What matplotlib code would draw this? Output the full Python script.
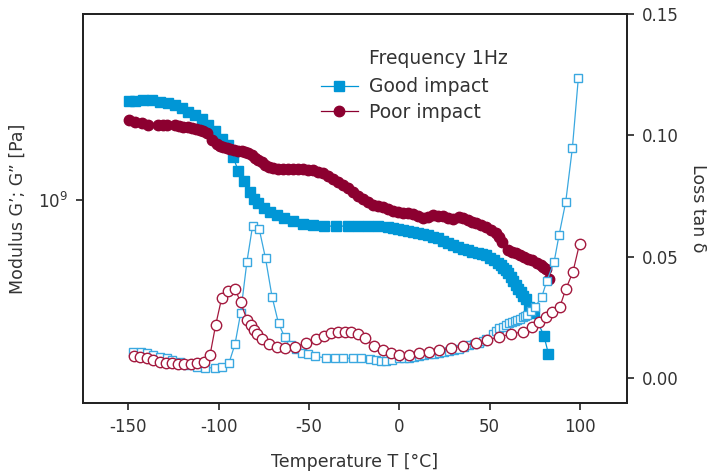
import numpy as np
import matplotlib
matplotlib.use('Agg')
import matplotlib.pyplot as plt
from matplotlib.ticker import FixedLocator, NullLocator

plt.rcParams['font.family'] = ['DejaVu Sans']
plt.rcParams['axes.unicode_minus'] = False

# Storage modulus G' (Pa), good impact grade
T_gp_good = [-149.8, -146.1, -141.6, -136.9, -132.3, -127.8, -124.1, -120.4, -116.7, -113.0,
             -109.3, -105.7, -102.0, -98.3, -94.6, -91.9, -89.1, -85.8, -82.7, -80.5,
             -78.1, -74.9, -71.6, -67.9, -63.9, -58.8, -53.3, -47.7, -41.8, -35.2,
             -28.4, -22.9, -17.4, -11.9, -6.3, -3.5, -0.8, 2.0, 4.7, 7.5,
             10.2, 13.0, 15.7, 18.5, 21.2, 24.0, 26.8, 29.5, 32.3, 35.0,
             37.8, 40.5, 43.3, 45.6, 48.0, 50.2, 52.5, 54.4, 56.2, 57.6,
             59.0, 60.4, 61.8, 63.2, 64.5, 65.9, 67.3, 68.6, 70.0, 71.9,
             73.3, 74.6, 80.1, 82.5]
G_good = [2.19e9, 2.19e9, 2.21e9, 2.21e9, 2.18e9, 2.16e9, 2.12e9, 2.07e9, 2.02e9, 1.96e9,
          1.90e9, 1.82e9, 1.73e9, 1.63e9, 1.55e9, 1.41e9, 1.26e9, 1.16e9, 1.07e9, 1.01e9,
          0.974e9, 0.941e9, 0.911e9, 0.888e9, 0.865e9, 0.846e9, 0.827e9, 0.820e9, 0.814e9, 0.814e9,
          0.814e9, 0.814e9, 0.814e9, 0.814e9, 0.805e9, 0.800e9, 0.796e9, 0.790e9, 0.784e9, 0.778e9,
          0.771e9, 0.764e9, 0.757e9, 0.748e9, 0.738e9, 0.725e9, 0.712e9, 0.701e9, 0.690e9, 0.681e9,
          0.672e9, 0.665e9, 0.658e9, 0.652e9, 0.646e9, 0.634e9, 0.621e9, 0.609e9, 0.597e9, 0.586e9,
          0.574e9, 0.559e9, 0.544e9, 0.527e9, 0.509e9, 0.496e9, 0.483e9, 0.469e9, 0.455e9, 0.429e9,
          0.418e9, 0.407e9, 0.340e9, 0.296e9]

# Storage modulus G' (Pa), poor impact grade
T_gp_poor = [-149.8, -146.1, -142.4, -138.8, -133.3, -131.0, -128.6, -124.1, -121.8, -119.5,
             -117.1, -114.8, -112.5, -110.3, -108.5, -106.6, -103.8, -101.0, -99.2, -97.4,
             -95.5, -93.7, -91.4, -89.1, -87.2, -85.4, -83.5, -81.7, -79.9, -78.1,
             -76.2, -74.4, -72.1, -69.8, -67.0, -64.3, -61.5, -58.8, -56.0, -53.3,
             -50.5, -47.7, -45.0, -42.2, -39.5, -36.7, -34.0, -31.2, -28.5, -25.7,
             -22.9, -20.1, -17.4, -14.6, -11.9, -9.1, -6.4, -3.6, -0.8, 1.9,
             4.7, 7.5, 10.2, 13.0, 15.7, 18.5, 21.2, 24.0, 26.8, 29.5,
             33.2, 35.5, 37.8, 40.1, 42.4, 45.2, 48.0, 50.7, 53.4, 55.2,
             57.1, 59.9, 62.2, 64.5, 66.8, 69.1, 71.4, 73.7, 76.0, 78.3,
             79.7, 81.1, 82.9]
G_poor = [1.89e9, 1.86e9, 1.84e9, 1.82e9, 1.82e9, 1.82e9, 1.82e9, 1.81e9, 1.80e9, 1.79e9,
          1.78e9, 1.77e9, 1.76e9, 1.75e9, 1.73e9, 1.70e9, 1.61e9, 1.56e9, 1.54e9, 1.53e9,
          1.51e9, 1.50e9, 1.49e9, 1.48e9, 1.473e9, 1.47e9, 1.45e9, 1.43e9, 1.40e9, 1.37e9,
          1.35e9, 1.32e9, 1.30e9, 1.29e9, 1.282e9, 1.28e9, 1.279e9, 1.28e9, 1.279e9, 1.28e9,
          1.275e9, 1.27e9, 1.255e9, 1.24e9, 1.21e9, 1.18e9, 1.153e9, 1.13e9, 1.097e9, 1.07e9,
          1.037e9, 1.01e9, 0.985e9, 0.966e9, 0.955e9, 0.944e9, 0.931e9, 0.919e9, 0.911e9, 0.904e9,
          0.900e9, 0.895e9, 0.880e9, 0.865e9, 0.877e9, 0.888e9, 0.885e9, 0.881e9, 0.870e9, 0.860e9,
          0.876e9, 0.865e9, 0.853e9, 0.842e9, 0.831e9, 0.820e9, 0.809e9, 0.790e9, 0.768e9, 0.745e9,
          0.718e9, 0.672e9, 0.663e9, 0.655e9, 0.646e9, 0.637e9, 0.629e9, 0.621e9, 0.609e9, 0.597e9,
          0.589e9, 0.581e9, 0.537e9]

# Loss tan delta, good impact grade
T_tan_good = [-147.1, -143.0, -139.7, -136.0, -132.3, -128.6, -125.6, -121.6, -117.6, -112.1,
              -107.5, -102.0, -98.0, -94.3, -90.9, -87.8, -84.3, -81.2, -77.5, -74.0,
              -70.4, -66.8, -63.5, -59.7, -56.9, -53.6, -50.5, -46.8, -40.3, -35.8,
              -31.2, -25.7, -21.0, -16.4, -12.7, -10.0, -7.2, -3.8, 0.1, 2.8,
              5.6, 8.3, 11.1, 13.9, 16.7, 19.4, 22.2, 25.0, 27.7, 30.5,
              33.2, 36.0, 38.7, 41.5, 44.3, 46.2, 48.1, 51.6, 53.4, 55.3,
              57.2, 59.0, 60.8, 62.6, 64.0, 65.4, 66.8, 68.2, 69.6, 70.9,
              73.0, 75.0, 78.9, 81.6, 85.7, 88.4, 92.1, 95.8, 99.1]
tan_good = [0.0108, 0.0106, 0.0102, 0.0095, 0.0088, 0.0081, 0.0074, 0.0066, 0.0053, 0.0047,
            0.0042, 0.0042, 0.0044, 0.0060, 0.0139, 0.0266, 0.0479, 0.0625, 0.0614, 0.0493,
            0.0335, 0.0225, 0.0170, 0.0136, 0.0118, 0.0104, 0.0098, 0.0091, 0.0081, 0.0081,
            0.0081, 0.0082, 0.0081, 0.0078, 0.0074, 0.0071, 0.0071, 0.0074, 0.0082, 0.0083,
            0.0084, 0.0087, 0.0091, 0.0094, 0.0097, 0.0100, 0.0103, 0.0107, 0.0111, 0.0116,
            0.0121, 0.0127, 0.0134, 0.0140, 0.0146, 0.0153, 0.0160, 0.0181, 0.0193, 0.0205,
            0.0211, 0.0218, 0.0225, 0.0232, 0.0236, 0.0239, 0.0245, 0.0250, 0.0255, 0.0259,
            0.0275, 0.0291, 0.0335, 0.0399, 0.0479, 0.0588, 0.0725, 0.0948, 0.1237]

# Loss tan delta, poor impact grade
T_tan_poor = [-146.7, -143.4, -139.7, -136.0, -132.3, -129.2, -125.9, -122.2, -118.9, -115.2,
              -111.8, -108.1, -104.7, -101.6, -98.3, -94.6, -90.9, -87.8, -84.2, -82.3,
              -80.5, -78.6, -75.7, -72.0, -67.9, -63.4, -57.8, -51.8, -46.2, -41.7,
              -37.6, -33.9, -30.2, -26.5, -22.9, -19.2, -14.2, -9.1, -4.5, 0.1,
              5.6, 11.1, 16.7, 22.2, 28.6, 35.0, 42.4, 48.8, 55.3, 61.8,
              68.2, 73.7, 77.4, 81.1, 84.7, 88.8, 92.1, 96.1, 99.8]
tan_poor = [0.0091, 0.0088, 0.0081, 0.0074, 0.0065, 0.0060, 0.0060, 0.0058, 0.0056, 0.0058,
            0.0060, 0.0065, 0.0095, 0.0218, 0.0328, 0.0359, 0.0367, 0.0312, 0.0239, 0.0218,
            0.0198, 0.0181, 0.0160, 0.0139, 0.0129, 0.0123, 0.0129, 0.0143, 0.0162, 0.0173,
            0.0184, 0.0188, 0.0189, 0.0188, 0.0180, 0.0163, 0.0132, 0.0115, 0.0102, 0.0095,
            0.0095, 0.0102, 0.0108, 0.0115, 0.0122, 0.0132, 0.0145, 0.0156, 0.0170, 0.0180,
            0.0191, 0.0209, 0.0232, 0.0252, 0.0273, 0.0292, 0.0365, 0.0437, 0.0554]

blue = '#0096d6'
blue_open = '#3aa8e0'
red = '#8c0030'
red_open = '#a3193e'
text_col = '#333333'

fig = plt.figure(figsize=(7.07, 4.71), dpi=100)
ax = fig.add_axes([0.1174, 0.1444, 0.7694, 0.8259])
ax2 = ax.twinx()

# modulus on left log axis
l1, = ax.plot(T_gp_good, G_good, '-', color=blue, lw=0.9, marker='s', ms=6.5,
              mfc=blue, mec=blue, label='Good impact')
l2, = ax.plot(T_gp_poor, G_poor, '-', color=red, lw=0.9, marker='o', ms=7.5,
              mfc=red, mec=red, label='Poor impact')

# tan delta on right axis
ax2.plot(T_tan_good, tan_good, '-', color=blue_open, lw=0.9, marker='s', ms=6.3,
         mfc='white', mec=blue_open, mew=1.0)
ax2.plot(T_tan_poor, tan_poor, '-', color=red_open, lw=0.9, marker='o', ms=7.5,
         mfc='white', mec=red_open, mew=1.0)

ax.set_yscale('log')
ax.set_ylim(2.0e8, 4.38e9)
ax.set_xlim(-175, 126)
ax2.set_ylim(-0.0103, 0.15)

ax.yaxis.set_major_locator(FixedLocator([1e9]))
ax.yaxis.set_minor_locator(NullLocator())
ax.set_xticks([-150, -100, -50, 0, 50, 100])
ax2.set_yticks([0.00, 0.05, 0.10, 0.15])
ax2.set_yticklabels(['0.00', '0.05', '0.10', '0.15'])

for a in (ax, ax2):
    for s in a.spines.values():
        s.set_linewidth(1.3)
        s.set_color('#222222')
    a.tick_params(direction='out', length=5, width=1.2, color='#222222',
                  labelsize=12, labelcolor=text_col, pad=6)

ax.set_xlabel('Temperature T [°C]', fontsize=12.5, color=text_col, labelpad=12)
ax.set_ylabel('Modulus G’; G” [Pa]', fontsize=12.5, color=text_col, labelpad=8)
ax2.set_ylabel('Loss tan δ', fontsize=12.5, color=text_col, rotation=-90, labelpad=20)

fig.text(369 / 707, 1 - 58 / 471, 'Frequency 1Hz', fontsize=13.5, color=text_col,
         va='center', ha='left')
leg = ax.legend(handles=[l1, l2], loc='upper left', bbox_to_anchor=(0.423, 0.857),
                frameon=False, fontsize=13.5, handlelength=2.0, handletextpad=0.6,
                labelspacing=0.35, borderaxespad=0)
for t in leg.get_texts():
    t.set_color(text_col)

fig.savefig('out.png', dpi=100)
